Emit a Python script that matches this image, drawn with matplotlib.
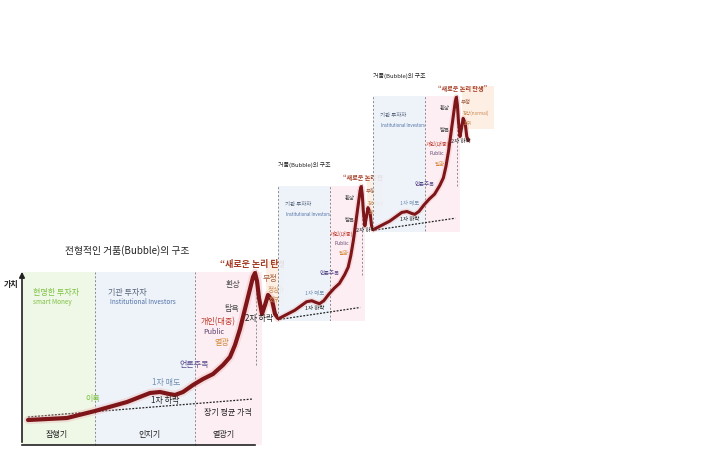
import matplotlib.pyplot as plt
from matplotlib.patches import Rectangle

plt.rcParams['font.family'] = ['Noto Sans CJK KR', 'DejaVu Sans']

W, H = 720, 471

# 가치 곡선 (t: 시간, v: 가치) - 가장 큰 차트 기준
curve_t = [6, 45, 73, 105, 128, 138, 147, 153, 161, 171, 181, 191, 201, 208, 213, 218, 223,
           228, 231, 233, 235, 237, 240, 243, 246, 250, 253, 256]
curve_v = [25, 27, 34, 43, 52, 53, 51, 50, 53, 60, 66, 71, 80, 88, 100, 116, 136,
           156, 168, 172, 164, 147, 131, 140, 150, 145, 131, 127]

# 장기 평균 가격 (점선)
trend_t = [6, 231]
trend_v = [28, 46]

# 구간 배경: 잠행기, 인지기, 열광기, 정상 회귀
band_t0 = [0, 73, 173, 244]
band_t1 = [73, 173, 240, 306]
band_v0 = [0, 0, 0, 139]
band_v1 = [173, 173, 173, 184]
band_colors = ['#eef7e5', '#edf2f9', '#fcedf2', '#fdeee0']

# 구간 경계 점선
divider_t = [73, 173, 234]
divider_v0 = [0, 0, 80]
divider_v1 = [173, 173, 175]

phase_names = ['잠행기', '인지기', '열광기']
phase_t = [35, 127, 202]

# (글자, t, v, 색, 크기, 정렬, 굵게)
labels = [
    ('가치', -11, 161, '#222222', 5.8, 'center', True),
    ('현명한 투자자', 11, 153, '#7cc242', 5.8, 'left', False),
    ('smart Money', 11, 143, '#7cc242', 4.6, 'left', False),
    ('기관 투자자', 86, 153, '#56657e', 5.8, 'left', False),
    ('Institutional Investors', 88, 143, '#4f6fa8', 4.6, 'left', False),
    ('“새로운 논리 탄생”', 198, 181, '#a33a22', 6.5, 'left', True),
    ('환상', 211, 160, '#444444', 5.8, 'center', False),
    ('부정', 241, 167, '#a05a3c', 5.8, 'left', False),
    ('정상(normal)', 246, 155, '#c98a55', 4.8, 'left', False),
    ('회귀', 247, 145, '#c98a55', 4.8, 'left', False),
    ('탐욕', 210, 137, '#444444', 5.8, 'center', False),
    ('개인(대중)', 196, 123, '#c0392b', 5.8, 'center', False),
    ('Public', 181, 113, '#5d3f6a', 5.2, 'left', False),
    ('열광', 200, 102, '#d4883a', 5.8, 'center', False),
    ('언론주목', 172, 81, '#5a4b8c', 5.8, 'center', False),
    ('1차 매도', 144, 62, '#7390b5', 5.8, 'center', False),
    ('1차 하락', 143, 45, '#222222', 5.8, 'center', False),
    ('2차 하락', 223, 126, '#222222', 5.8, 'left', False),
]
main_labels = [
    ('이륙', 71, 46, '#7cc242', 5.8, 'center', False),
    ('장기 평균 가격', 206, 33, '#222222', 5.8, 'center', False),
]

fig = plt.figure(figsize=(W / 100, H / 100), dpi=100)


def add_panel(ox, oy, sx, sy, xlim, ylim):
    left = ox + xlim[0] * sx
    right = ox + xlim[1] * sx
    bottom = oy - ylim[0] * sy
    top = oy - ylim[1] * sy
    ax = fig.add_axes([left / W, 1 - bottom / H, (right - left) / W, (bottom - top) / H])
    ax.set_xlim(xlim)
    ax.set_ylim(ylim)
    ax.axis('off')
    return ax


def draw_bubble(ax, fs, lw, title, title_t, title_size):
    for t0, t1, v0, v1, c in zip(band_t0, band_t1, band_v0, band_v1, band_colors):
        ax.add_patch(Rectangle((t0, v0), t1 - t0, v1 - v0, color=c, lw=0, alpha=0.9, zorder=0))
    for t, v0, v1 in zip(divider_t, divider_v0, divider_v1):
        ax.plot([t, t], [v0, v1], color='#8a8a8a', lw=0.7, ls=(0, (2, 2)), zorder=1)
    ax.plot(trend_t, trend_v, color='#222222', lw=0.9, ls=(0, (1.5, 1.2)), zorder=2)
    ax.plot(curve_t, curve_v, color='#eeb4b4', lw=lw * 2.0, alpha=0.35,
            solid_capstyle='round', solid_joinstyle='round', zorder=3)
    ax.plot(curve_t, curve_v, color='#7e1519', lw=lw,
            solid_capstyle='round', solid_joinstyle='round', zorder=4)
    for txt, t, v, c, size, ha, bold in labels:
        ax.text(t, v, txt, color=c, fontsize=size * fs, ha=ha, va='center',
                fontweight='bold' if bold else 'normal', clip_on=True, zorder=5)
    ax.text(title_t, 194, title, color='#222222', fontsize=title_size, ha='center', va='center',
            zorder=5)


# 큰 차트
ax0 = add_panel(22, 445, 1.0, 1.0, (-20, 262), (-12, 205))
draw_bubble(ax0, 1.0, 3.0, '전형적인 거품(Bubble)의 구조', 105, 7.0)
for txt, t, v, c, size, ha, bold in main_labels:
    ax0.text(t, v, txt, color=c, fontsize=size, ha=ha, va='center', zorder=5)
for name, t in zip(phase_names, phase_t):
    ax0.text(t, 10, name, color='#222222', fontsize=5.8, ha='center', va='center')
ax0.plot([0, 233], [0, 0], color='#222222', lw=1.2)
ax0.annotate('', xy=(0, 176), xytext=(0, 0),
             arrowprops=dict(arrowstyle='-|>', color='#222222', lw=1.2, mutation_scale=8))

# 작은 차트 두 개 (같은 구조의 반복)
sx, sy = 0.52, 0.96
ox2, oy2 = 278 - 73 * sx, 319 + 34 * sy
ox3 = ox2 + (curve_t[-1] - 73) * sx
oy3 = oy2 - (curve_v[-1] - 34) * sy

ax1 = add_panel(ox2, oy2, sx, sy, (73, 274), (32, 205))
draw_bubble(ax1, 0.68, 2.2, '거품(Bubble)의 구조', 123, 4.3)
ax2 = add_panel(ox3, oy3, sx, sy, (73, 330), (32, 210))
draw_bubble(ax2, 0.68, 2.2, '거품(Bubble)의 구조', 123, 4.3)

fig.savefig('out.png', dpi=100)
